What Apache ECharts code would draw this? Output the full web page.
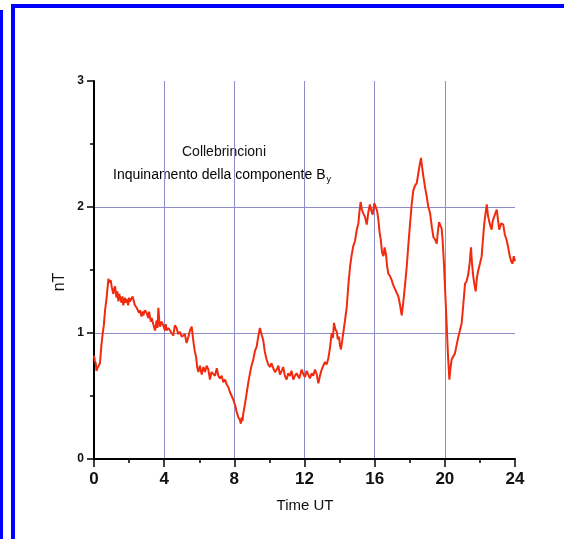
<!DOCTYPE html>
<html>
<head>
<meta charset="utf-8">
<script src="https://cdn.jsdelivr.net/npm/echarts@6/dist/echarts.min.js"></script>
<style>
  html, body { margin: 0; padding: 0; background: #fff; }
  #chart { width: 564px; height: 539px; }
</style>
</head>
<body>
<div id="chart"></div>
<script>
// Hour of day (UT) for each sample
const hours = [
  0.00, 0.05, 0.10, 0.14, 0.19, 0.26, 0.34, 0.42, 0.50, 0.56, 0.63, 0.72, 0.82, 0.88,
  0.95, 1.02, 1.10, 1.15, 1.20, 1.28, 1.33, 1.39, 1.44, 1.48, 1.57, 1.62, 1.67, 1.76,
  1.81, 1.86, 1.95, 2.00, 2.05, 2.14, 2.20, 2.24, 2.33, 2.43, 2.52, 2.57, 2.62, 2.71,
  2.76, 2.81, 2.90, 3.00, 3.09, 3.14, 3.19, 3.24, 3.29, 3.38, 3.48, 3.57, 3.62, 3.67,
  3.72, 3.76, 3.85, 3.95, 4.04, 4.09, 4.14, 4.24, 4.33, 4.42, 4.52, 4.61, 4.71, 4.80,
  4.90, 5.00, 5.09, 5.18, 5.28, 5.38, 5.47, 5.57, 5.66, 5.74, 5.82, 5.88, 5.95, 6.04,
  6.14, 6.24, 6.33, 6.42, 6.52, 6.61, 6.70, 6.80, 6.90, 7.00, 7.09, 7.18, 7.28, 7.37,
  7.47, 7.57, 7.66, 7.75, 7.85, 7.94, 8.04, 8.14, 8.23, 8.32, 8.37, 8.42, 8.46, 8.51,
  8.60, 8.70, 8.80, 8.89, 8.98, 9.08, 9.18, 9.27, 9.36, 9.46, 9.55, 9.65, 9.74, 9.84,
  9.93, 10.03, 10.12, 10.22, 10.32, 10.42, 10.51, 10.60, 10.70, 10.79, 10.88, 10.98,
  11.07, 11.17, 11.26, 11.36, 11.45, 11.55, 11.70, 11.84, 11.94, 12.03, 12.12, 12.22,
  12.31, 12.41, 12.50, 12.60, 12.70, 12.79, 12.88, 12.98, 13.07, 13.17, 13.26, 13.36,
  13.45, 13.55, 13.62, 13.68, 13.76, 13.84, 13.90, 13.97, 14.02, 14.08, 14.14, 14.21,
  14.31, 14.41, 14.50, 14.60, 14.69, 14.78, 14.88, 14.98, 15.07, 15.13, 15.20, 15.27,
  15.35, 15.45, 15.55, 15.64, 15.73, 15.81, 15.89, 15.98, 16.08, 16.14, 16.21, 16.28,
  16.35, 16.42, 16.50, 16.57, 16.65, 16.71, 16.78, 16.88, 16.97, 17.06, 17.16, 17.25,
  17.35, 17.45, 17.54, 17.63, 17.73, 17.83, 17.92, 18.02, 18.11, 18.20, 18.30, 18.40,
  18.48, 18.55, 18.64, 18.71, 18.78, 18.88, 18.97, 19.06, 19.16, 19.26, 19.35, 19.45,
  19.54, 19.60, 19.67, 19.75, 19.82, 19.88, 19.95, 20.03, 20.11, 20.18, 20.26, 20.32,
  20.39, 20.48, 20.58, 20.68, 20.77, 20.86, 20.96, 21.05, 21.15, 21.24, 21.34, 21.42,
  21.49, 21.55, 21.62, 21.69, 21.76, 21.83, 21.91, 22.00, 22.10, 22.17, 22.25, 22.32,
  22.39, 22.46, 22.54, 22.60, 22.67, 22.73, 22.80, 22.88, 22.96, 23.03, 23.10, 23.21,
  23.33, 23.42, 23.52, 23.61, 23.70, 23.78, 23.86, 23.93, 24.00
];

// By component (nT)
const byValues = [
  0.82, 0.78, 0.76, 0.70, 0.72, 0.71, 0.76, 0.90, 1.00, 1.06, 1.18, 1.28, 1.43, 1.40,
  1.42, 1.36, 1.31, 1.35, 1.37, 1.28, 1.33, 1.25, 1.31, 1.30, 1.24, 1.29, 1.22, 1.28,
  1.24, 1.27, 1.22, 1.28, 1.25, 1.24, 1.29, 1.27, 1.22, 1.20, 1.21, 1.16, 1.18, 1.13,
  1.17, 1.14, 1.18, 1.16, 1.12, 1.17, 1.16, 1.09, 1.12, 1.07, 1.02, 1.10, 1.04, 1.20,
  1.10, 1.05, 1.09, 1.06, 1.02, 1.07, 1.02, 1.04, 1.05, 1.00, 0.98, 1.06, 1.04, 0.99,
  1.01, 0.97, 0.96, 0.99, 0.92, 0.97, 1.02, 1.05, 0.94, 0.86, 0.81, 0.73, 0.69, 0.74,
  0.67, 0.73, 0.69, 0.74, 0.71, 0.63, 0.69, 0.68, 0.66, 0.72, 0.66, 0.64, 0.66, 0.61,
  0.63, 0.59, 0.57, 0.53, 0.50, 0.47, 0.43, 0.37, 0.33, 0.31, 0.28, 0.33, 0.30, 0.36,
  0.43, 0.52, 0.61, 0.68, 0.74, 0.79, 0.86, 0.89, 0.97, 1.04, 0.99, 0.94, 0.85, 0.79,
  0.75, 0.73, 0.76, 0.72, 0.69, 0.71, 0.74, 0.67, 0.70, 0.73, 0.66, 0.63,
  0.68, 0.66, 0.70, 0.63, 0.66, 0.68, 0.64, 0.71, 0.67, 0.65, 0.70, 0.69,
  0.64, 0.68, 0.66, 0.71, 0.67, 0.60, 0.66, 0.71, 0.74, 0.77, 0.75, 0.80,
  0.88, 1.00, 0.96, 1.08, 1.03, 1.01, 0.95, 0.97, 0.90, 0.87, 0.93, 1.00,
  1.10, 1.21, 1.38, 1.53, 1.62, 1.69, 1.73, 1.82, 1.87, 1.96, 2.04, 1.98,
  1.95, 1.92, 1.86, 1.96, 2.02, 1.97, 1.94, 2.03, 2.04, 1.97, 1.90, 1.80,
  1.74, 1.64, 1.61, 1.68, 1.62, 1.53, 1.47, 1.45, 1.42, 1.38, 1.37, 1.32,
  1.29, 1.22, 1.14, 1.24, 1.38, 1.53, 1.70, 1.87, 2.02, 2.13, 2.17, 2.19,
  2.26, 2.32, 2.39, 2.31, 2.24, 2.15, 2.08, 2.00, 1.95, 1.84, 1.76, 1.74,
  1.71, 1.80, 1.88, 1.85, 1.83, 1.72, 1.55, 1.30, 1.05, 0.82, 0.63, 0.72,
  0.79, 0.80, 0.84, 0.91, 0.97, 1.02, 1.08, 1.22, 1.39, 1.41, 1.47, 1.56,
  1.68, 1.55, 1.45, 1.38, 1.33, 1.44, 1.50, 1.55, 1.61, 1.74, 1.87, 1.95,
  2.02, 1.93, 1.88, 1.85, 1.82, 1.89, 1.92, 1.95, 1.98, 1.90, 1.82, 1.87,
  1.86, 1.78, 1.74, 1.68, 1.61, 1.57, 1.55, 1.61, 1.57
];

const xTicks = [0, 4, 8, 12, 16, 20, 24];
const yTicks = [0, 1, 2, 3];

const seriesData = hours.map((h, i) => [h, byValues[i]]);

const chart = echarts.init(document.getElementById('chart'), null, { renderer: 'canvas' });

const boldLabel = {
  fontFamily: '"Liberation Sans", Arial, sans-serif',
  fontWeight: 'bold',
  color: '#111'
};
const gridColor = '#8c8cc8';

chart.setOption({
  animation: false,
  backgroundColor: '#fff',
  grid: { left: 94, right: 49, top: 81, bottom: 80 },
  xAxis: {
    type: 'value',
    min: xTicks[0],
    max: xTicks[xTicks.length - 1],
    interval: 4,
    axisLine: { show: true, lineStyle: { color: '#000', width: 2 } },
    axisTick: { show: true, length: 8, lineStyle: { color: '#000', width: 1.5 } },
    minorTick: { show: true, splitNumber: 2, length: 4, lineStyle: { color: '#000', width: 1.5 } },
    axisLabel: Object.assign({ margin: 12, fontSize: 17 }, boldLabel),
    splitLine: { show: true, showMinLine: false, showMaxLine: false, lineStyle: { color: gridColor, width: 1 } }
  },
  yAxis: {
    type: 'value',
    min: yTicks[0],
    max: yTicks[yTicks.length - 1],
    interval: 1,
    axisLine: { show: true, lineStyle: { color: '#000', width: 2 } },
    axisTick: { show: true, length: 7, lineStyle: { color: '#000', width: 1.5 } },
    minorTick: { show: true, splitNumber: 2, length: 4, lineStyle: { color: '#000', width: 1.5 } },
    axisLabel: Object.assign({ margin: 10, fontSize: 12 }, boldLabel),
    splitLine: { show: true, showMinLine: false, showMaxLine: false, lineStyle: { color: gridColor, width: 1 } }
  },
  series: [{
    type: 'line',
    data: seriesData,
    showSymbol: false,
    lineStyle: { color: '#f22a0e', width: 2 },
    z: 3
  }],
  graphic: [
    // frame bars along the top and left edges
    { type: 'rect', shape: { x: 0, y: 10, width: 3, height: 529 }, style: { fill: '#0000ff' } },
    { type: 'rect', shape: { x: 11, y: 4, width: 4, height: 535 }, style: { fill: '#0000ff' } },
    { type: 'rect', shape: { x: 11, y: 4, width: 553, height: 4 }, style: { fill: '#0000ff' } },
    {
      type: 'text',
      style: {
        x: 305, y: 506, text: 'Time UT', textAlign: 'center', textVerticalAlign: 'middle',
        font: '15px "Liberation Sans", Arial, sans-serif', fill: '#111'
      }
    },
    {
      type: 'text', x: 60, y: 282, rotation: Math.PI / 2,
      style: {
        text: 'nT', textAlign: 'center', textVerticalAlign: 'middle',
        font: '16px "Liberation Sans", Arial, sans-serif', fill: '#111'
      }
    },
    {
      type: 'text',
      style: {
        x: 224, y: 152, text: 'Collebrincioni', textAlign: 'center', textVerticalAlign: 'middle',
        font: '14px "Liberation Sans", Arial, sans-serif', fill: '#111'
      }
    },
    {
      type: 'text',
      style: {
        x: 222, y: 175, text: '{a|Inquinamento della componente B}{s|y}',
        textAlign: 'center', textVerticalAlign: 'middle',
        rich: {
          a: { font: '14px "Liberation Sans", Arial, sans-serif', color: '#111' },
          s: { font: '9px "Liberation Sans", Arial, sans-serif', color: '#111', padding: [10, 0, 0, 1] }
        }
      }
    }
  ]
});
</script>
</body>
</html>
